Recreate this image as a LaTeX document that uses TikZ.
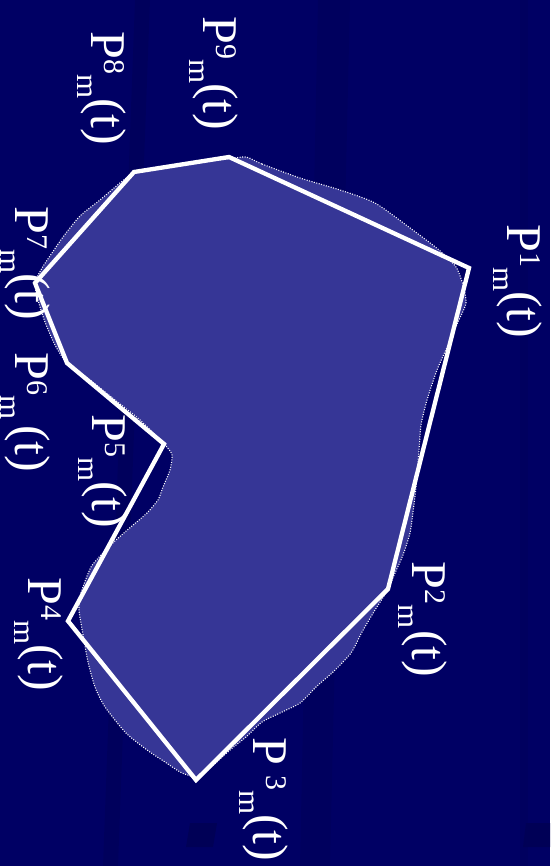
\documentclass[tikz,border=0pt]{standalone}
\usepackage{fontspec}
\setmainfont{Liberation Serif}
\definecolor{bgc}{RGB}{0,0,100}
\definecolor{blobc}{RGB}{54,54,150}
\definecolor{streakc}{RGB}{0,0,86}
\newcommand\plab[3]{P\hspace{#2}\raisebox{0.26em}{\fontsize{30}{30}\selectfont #1}\raisebox{-0.28em}{\fontsize{31}{31}\selectfont m}\hspace{#3}(t)}
\tikzset{
  lbl/.style={rotate=-90, anchor=base west, inner sep=0pt, text=white, font=\fontsize{50}{50}\selectfont},
  poly/.style={draw=white, line width=4.3pt, line join=miter},
  blobfill/.style={fill=blobc},
  blobedge/.style={draw=white, line width=1.1pt, dash pattern=on 1pt off 1.5pt},
}
\begin{document}
\begin{tikzpicture}[x=1pt,y=-1pt]
\useasboundingbox (0,0) rectangle (550,866);
\fill[bgc] (0,0) rectangle (550,866);
% faint streaks
\fill[streakc, opacity=0.5] (135,0) -- (150,0) -- (118,866) -- (103,866) -- cycle;
\fill[streakc, opacity=0.4] (318,0) -- (350,0) -- (330,866) -- (300,866) -- cycle;
\fill[streakc, opacity=0.35] (520,0) -- (528,0) -- (528,866) -- (520,866) -- cycle;
\fill[streakc] (190,823) -- (217,823) -- (213,847) -- (186,847) -- cycle;
\fill[streakc] (526,823) -- (550,823) -- (550,847) -- (523,847) -- cycle;
% blob
\def\blobpts{(246,157) (262,164) (300,178) (340,190) (375,203) (410,228) (439,250) (456,267) (463,285) (466,303) (458,322) (449,343) (437,370) (427,400) (421,425) (419,450) (416,487) (413,512) (410,533) (403,555) (395,573) (387,591) (375,610) (362,632) (351,653) (333,672) (316,687) (300,703) (280,713) (262,722) (246,737) (230,750) (210,768) (198,777) (182,773) (165,762) (147,750) (126,733) (105,707) (95,687) (88,662) (84,640) (79,610) (81,593) (91,567) (104,552) (116,540) (132,526) (147,513) (158,500) (163,487) (170,470) (172,455) (165,445) (140,420) (115,400) (90,380) (67,363) (55,345) (45,322) (38,300) (35,283) (42,268) (52,253) (63,237) (80,216) (100,200) (120,183) (134,173) (160,168) (200,162) (228,159)}
\fill[blobfill] plot[smooth cycle, tension=0.4] coordinates {\blobpts};
\draw[blobedge] plot[smooth cycle, tension=0.4] coordinates {\blobpts};
% polygon vertices
\coordinate (p1) at (469,268);
\coordinate (p2) at (388,589);
\coordinate (p3) at (196,780);
\coordinate (p4) at (68,621);
\coordinate (p5) at (164,444);
\coordinate (p6) at (67,363);
\coordinate (p7) at (35,283);
\coordinate (p8) at (134,172);
\coordinate (p9) at (229,157);
\draw[poly] (p1) -- (p2) -- (p3) -- (p4) -- (p5) -- (p6) -- (p7) -- (p8) -- (p9) -- cycle;
% labels
\node[lbl] (l1) at (507,224) {\plab{1}{0pt}{0pt}};
\node[lbl] (l2) at (412,561) {\plab{2}{0pt}{2pt}};
\node[lbl] (l3) at (253,737) {\plab{3}{10pt}{0pt}};
\node[lbl] (l4) at (28,577) {\plab{4}{0pt}{0pt}};
\node[lbl] (l5) at (92,414) {\plab{5}{0pt}{0pt}};
\node[lbl] (l6) at (15,352) {\plab{6}{0pt}{6pt}};
\node[lbl] (l7) at (15,206) {\plab{7}{0pt}{0pt}};
\node[lbl] (l8) at (91,31) {\plab{8}{0pt}{0pt}};
\node[lbl] (l9) at (203,16) {\plab{9}{0pt}{0pt}};
\end{tikzpicture}
\end{document}
